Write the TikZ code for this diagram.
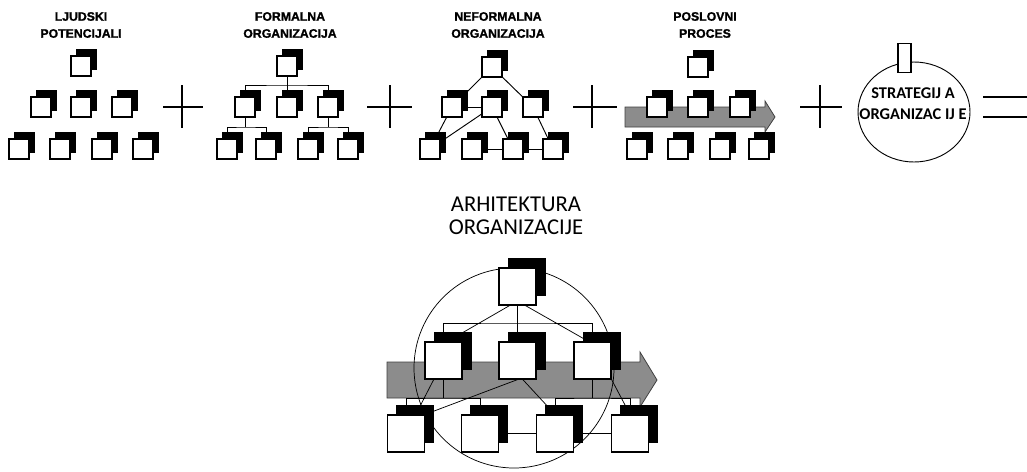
\documentclass[tikz,border=0pt]{standalone}
\usepackage{fontspec}
\setmainfont{Liberation Sans}
\newfontfamily\cfont{Carlito}
\newfontfamily\hfont[FakeBold=1.2]{Liberation Sans Bold}
\usetikzlibrary{shadows,backgrounds,shapes.geometric}
\begin{document}
\begin{tikzpicture}[x=0.75pt,y=-0.75pt,
  sbox/.style={draw,fill=white,line width=0.9pt,minimum size=15pt,inner sep=0pt,
     copy shadow={shadow xshift=4.1pt,shadow yshift=4.8pt,fill=black,draw=black}},
  bbox/.style={draw,fill=white,line width=0.9pt,minimum size=27.75pt,inner sep=0pt,
     copy shadow={shadow xshift=6.9pt,shadow yshift=6.9pt,fill=black,draw=black}},
  lbl/.style={align=center,inner sep=0pt,font=\hfont\fontsize{9.2}{12.75}\selectfont},
  conn/.style={line width=0.7pt},
  thinln/.style={line width=0.55pt},
  op/.style={line width=1.7pt},
  flow/.style={fill=black!45,draw=black!75,line width=0.6pt}]
\begin{scope}[on background layer]
  \fill[white] (0,0) rectangle (1027,471);
\end{scope}
\useasboundingbox (0,0) rectangle (1027,471);

% labels
\node[lbl] (l1) at (81,25) {LJUDSKI\\POTENCIJALI};
\node[lbl] (l2) at (290,25) {FORMALNA\\ORGANIZACIJA};
\node[lbl] (l3) at (498,25) {NEFORMALNA\\ORGANIZACIJA};
\node[lbl] (l4) at (705,25) {POSLOVNI\\PROCES};

% panel 1
\node[sbox] (p0) at (81,66) {};
\node[sbox] (p1) at (41,107) {};
\node[sbox] (p2) at (81,107) {};
\node[sbox] (p3) at (122,107) {};
\node[sbox] (p4) at (19,149) {};
\node[sbox] (p5) at (60,149) {};
\node[sbox] (p6) at (102,149) {};
\node[sbox] (p7) at (143,149) {};

% panel 2
\node[sbox] (f0) at (287,66) {};
\node[sbox] (f1) at (245,107) {};
\node[sbox] (f2) at (287,107) {};
\node[sbox] (f3) at (328,107) {};
\node[sbox] (f4) at (227,149) {};
\node[sbox] (f5) at (266,149) {};
\node[sbox] (f6) at (308,149) {};
\node[sbox] (f7) at (348,149) {};
\coordinate (fb) at (287,85);
\coordinate (fb1) at (245,127);
\coordinate (fb3) at (328,127);

% panel 3
\node[sbox] (n0) at (492,67) {};
\node[sbox] (n1) at (452,107) {};
\node[sbox] (n2) at (492,107) {};
\node[sbox] (n3) at (533,107) {};
\node[sbox] (n4) at (430,149) {};
\node[sbox] (n5) at (472,149) {};
\node[sbox] (n6) at (513,149) {};
\node[sbox] (n7) at (553,149) {};

% panel 4
\node[sbox] (q0) at (698,67) {};
\node[sbox] (q1) at (657,107) {};
\node[sbox] (q2) at (698,107) {};
\node[sbox] (q3) at (740,107) {};
\node[sbox] (q4) at (637,149) {};
\node[sbox] (q5) at (678,149) {};
\node[sbox] (q6) at (720,149) {};
\node[sbox] (q7) at (759,149) {};

% strategy
\node[draw,ellipse,line width=0.7pt,minimum width=84pt,minimum height=75pt,inner sep=0pt] (strat) at (914,112) {};
\node[draw,fill=white,line width=0.8pt,minimum width=9.75pt,minimum height=21.75pt,inner sep=0pt] (stratbox) at (904.5,58) {};
\node[align=center,inner sep=0pt,font=\cfont\bfseries\fontsize{12.3}{15.75}\selectfont] (strattxt) at (913,103.5) {STRATEGIJ A\\ORGANIZAC IJ E};

% operators
\draw[op] (163,107) -- (203,107) (182,85) -- (182,128);
\draw[op] (367,107) -- (412,107) (390,85) -- (390,128);
\draw[op] (573,107) -- (617,107) (592,85) -- (592,128);
\draw[op] (800,107) -- (842,107) (820,85) -- (820,128);
\draw[op] (983,97) -- (1027,97) (983,117) -- (1027,117);

% bottom
\node[align=center,inner sep=0pt,font=\cfont\fontsize{17}{17.6}\selectfont] (archlbl) at (516,216) {ARHITEKTURA\\ORGANIZACIJE};
\node[bbox] (a0) at (517.5,286.5) {};
\node[bbox] (a1) at (443.5,360.5) {};
\node[bbox] (a2) at (517.5,360.5) {};
\node[bbox] (a3) at (592.5,360.5) {};
\node[bbox] (a4) at (406,433.5) {};
\node[bbox] (a5) at (480,433.5) {};
\node[bbox] (a6) at (555,433.5) {};
\node[bbox] (a7) at (630,433.5) {};
\coordinate (ab) at (517.5,323);
\coordinate (ab1) at (443.5,398);
\coordinate (ab3) at (592.5,398);

\begin{scope}[on background layer]
  % panel 2 connectors
  \draw[conn] (f0) -- (f2);
  \draw[conn] (f1) |- (fb) -| (f3);
  \draw[conn] (f1) -- (fb1);
  \draw[conn] (f4) |- (fb1) -| (f5);
  \draw[conn] (f3) -- (fb3);
  \draw[conn] (f6) |- (fb3) -| (f7);
  % panel 3 connectors
  \draw[conn] (n0) -- (n1);
  \draw[conn] (n0) -- (n3);
  \draw[conn] (n1) -- (n2);
  \draw[conn] (n1) -- (n4);
  \draw[conn] (n4) -- (n2);
  \draw[conn] (n2) -- (n6);
  \draw[conn] (n3) -- (n7);
  \draw[conn] (n5) -- (n6);
  \draw[conn] (n6) -- (n7);
  % panel 4 flow
  \draw[flow] (625,107) -- (765,107) -- (765,101) -- (775,117) -- (765,132) -- (765,127) -- (625,127) -- cycle;
  % bottom flow, circle, connectors
  \draw[flow] (387,362) -- (640,362) -- (640,352) -- (657,380) -- (640,407) -- (640,398) -- (387,398) -- cycle;
  \node[draw,circle,thinln,minimum size=150pt,inner sep=0pt] (arch) at (514,368) {};
  \draw[thinln] (a0) -- (a2);
  \draw[thinln] (a1) |- (ab) -| (a3);
  \draw[thinln] ([xshift=-6pt]a0.south) -- ([xshift=3pt]a1.north);
  \draw[thinln] ([xshift=6pt]a0.south) -- ([xshift=-3pt]a3.north);
  \draw[thinln] (a1) -- (ab1);
  \draw[thinln] (a4) |- (ab1) -| (a5);
  \draw[thinln] (a3) -- (ab3);
  \draw[thinln] (a6) |- (ab3) -| (a7);
  \draw[thinln] (a1) -- (a4);
  \draw[thinln] (a4.north east) -- (a2.south);
  \draw[thinln] ([xshift=4pt]a2.south) -- (a6.north);
  \draw[thinln] (a3.south east) -- (a7.north);
  \draw[thinln] (a5) -- (a6);
  \draw[thinln] (a6) -- (a7);
\end{scope}
\end{tikzpicture}
\end{document}
